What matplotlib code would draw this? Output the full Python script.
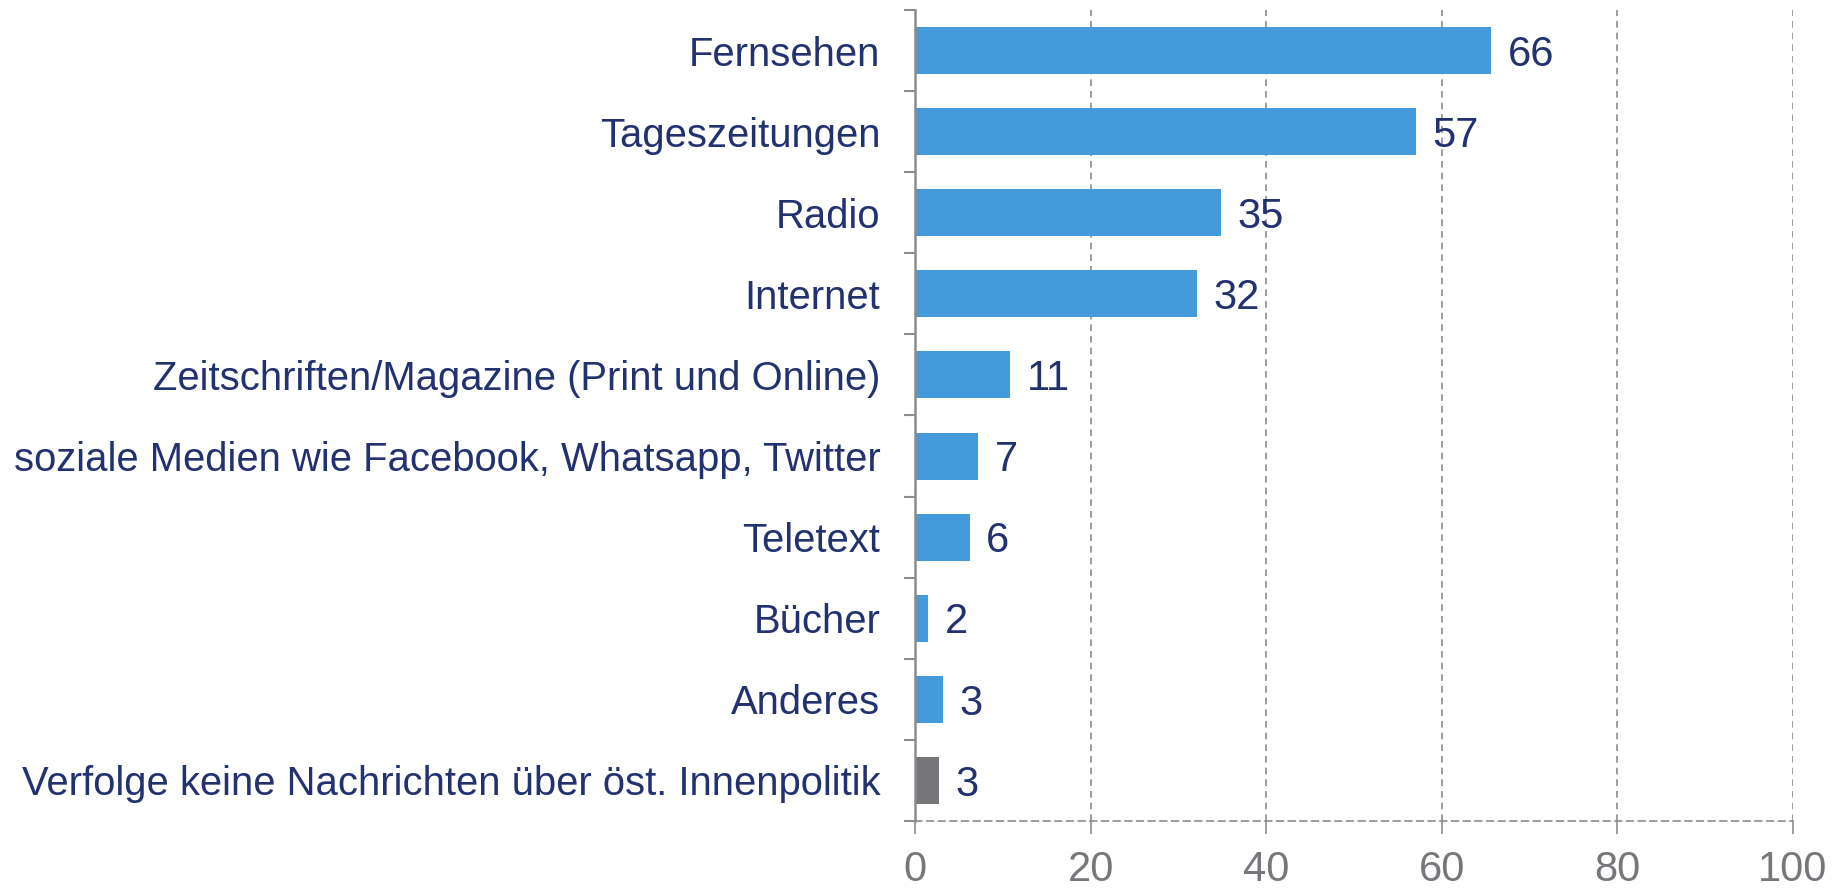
import numpy as np
import matplotlib.pyplot as plt

plt.rcParams['font.family'] = ['Liberation Sans', 'DejaVu Sans']

categories = [
    "Fernsehen",
    "Tageszeitungen",
    "Radio",
    "Internet",
    "Zeitschriften/Magazine (Print und Online)",
    "soziale Medien wie Facebook, Whatsapp, Twitter",
    "Teletext",
    "Bücher",
    "Anderes",
    "Verfolge keine Nachrichten über öst. Innenpolitik",
]
values = [65.6, 57.0, 34.8, 32.1, 10.8, 7.2, 6.2, 1.5, 3.2, 2.7]
value_labels = ["66", "57", "35", "32", "11", "7", "6", "2", "3", "3"]
x_ticks = [0, 20, 40, 60, 80, 100]

blue = "#459ADB"
grey_bar = "#76777B"
navy = "#22316F"
axis_grey = "#8C8C8C"

fig = plt.figure(figsize=(18.39, 8.89), dpi=100)
ax = fig.add_axes([0.4976, 0.0765, 0.975 - 0.4976, 0.9888 - 0.0765])

n = len(categories)
y = np.arange(n)
colors = [blue] * (n - 1) + [grey_bar]
ax.barh(y, values, height=0.58, color=colors, zorder=3)

for yi, v, lab in zip(y, values, value_labels):
    ax.annotate(lab, (v, yi), xytext=(12, -3), textcoords="offset points",
                ha="left", va="center", fontsize=30, color=navy)

ax.set_ylim(n - 0.5, -0.5)
ax.set_xlim(0, 100)
ax.set_yticks(y)
ax.set_yticklabels(categories, fontsize=28.8, color=navy)
ax.set_yticks(np.arange(-0.5, n, 1.0), minor=True)
ax.tick_params(axis="y", which="major", length=0, pad=25)
ax.tick_params(axis="y", which="minor", length=8, width=1.5, color=axis_grey)

ax.set_xticks(x_ticks)
ax.set_xticklabels([str(t) for t in x_ticks], fontsize=30, color="#76777B")
ax.tick_params(axis="x", length=9, width=1.2, color=axis_grey, pad=12)

ax.grid(axis="x", linestyle=(0, (4, 3)), color=axis_grey, linewidth=1.2, zorder=0)

for s in ["top", "right"]:
    ax.spines[s].set_visible(False)
ax.spines["left"].set_color(axis_grey)
ax.spines["left"].set_linewidth(1.8)
ax.spines["left"].set_zorder(4)
ax.spines["bottom"].set_color(axis_grey)
ax.spines["bottom"].set_linewidth(1.2)
ax.spines["bottom"].set_linestyle((0, (4, 3)))

fig.savefig("out.png", dpi=100)
